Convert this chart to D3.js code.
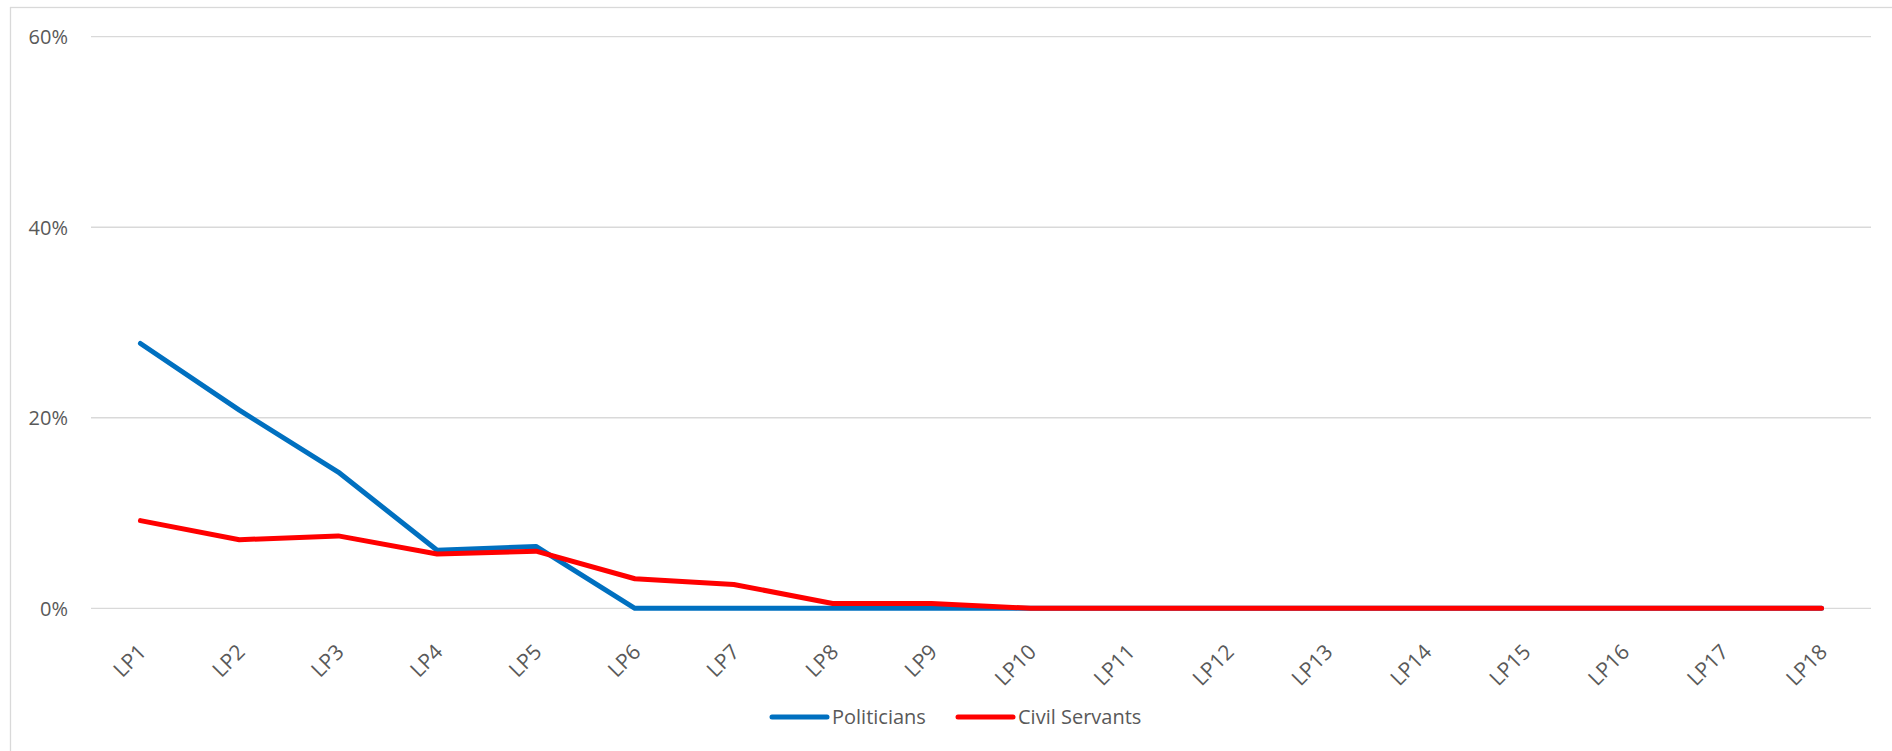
<!DOCTYPE html>
<html>
<head>
<meta charset="utf-8">
<script src="https://cdn.jsdelivr.net/npm/d3@7"></script>
<style>
  html, body { margin: 0; padding: 0; background: #fff; }
  svg { display: block; }
  text { font-family: "Open Sans", sans-serif; fill: #595959; }
</style>
</head>
<body>
<svg id="chart" width="1892" height="751"></svg>
<script>
const categories = ["LP1","LP2","LP3","LP4","LP5","LP6","LP7","LP8","LP9","LP10","LP11","LP12","LP13","LP14","LP15","LP16","LP17","LP18"];
const politicians = [27.8, 20.8, 14.3, 6.1, 6.5, 0, 0, 0, 0, 0, 0, 0, 0, 0, 0, 0, 0, 0];
const civilServants = [9.2, 7.2, 7.6, 5.7, 6.0, 3.1, 2.5, 0.5, 0.5, 0, 0, 0, 0, 0, 0, 0, 0, 0];
const yTicks = [0, 20, 40, 60];
const seriesNames = ["Politicians", "Civil Servants"];
const seriesColors = ["#0070C0", "#FF0000"];

const svg = d3.select("#chart");
const W = 1892, H = 751;
const margin = { left: 91, right: W - 1871, top: 36.7, bottom: H - 608.3 };

// outer chart border (extends beyond the picture on right and bottom)
svg.append("rect")
  .attr("x", 10.5).attr("y", 7.5)
  .attr("width", 1900).attr("height", 800)
  .attr("fill", "none").attr("stroke", "#d9d9d9").attr("stroke-width", 1.3);

const x = d3.scaleBand().domain(categories).range([margin.left, W - margin.right]);
const y = d3.scaleLinear().domain([0, 60]).range([H - margin.bottom, margin.top]);

// gridlines
svg.append("g")
  .selectAll("line").data(yTicks).join("line")
  .attr("x1", margin.left).attr("x2", W - margin.right)
  .attr("y1", d => y(d)).attr("y2", d => y(d))
  .attr("stroke", "#d9d9d9").attr("stroke-width", 1.3);

// y axis labels
const yAxis = d3.axisLeft(y).tickValues(yTicks).tickFormat(d => d + "%").tickSize(0).tickPadding(0);
const gy = svg.append("g").attr("transform", "translate(68,0)").call(yAxis);
gy.select(".domain").remove();
gy.selectAll("text").attr("font-size", 20).attr("fill", "#595959")
  .style("font-family", "Open Sans, sans-serif").attr("dy", "0.35em");

// x axis labels
const xAxis = d3.axisBottom(x).tickSize(0).tickPadding(0);
const gx = svg.append("g").attr("transform", `translate(0,${y(0)})`).call(xAxis);
gx.select(".domain").remove();
gx.selectAll("text")
  .attr("font-size", 21).attr("fill", "#595959")
  .style("font-family", "Open Sans, sans-serif")
  .attr("text-anchor", "end")
  .attr("dy", null).attr("y", null)
  .attr("transform", "translate(7,45) rotate(-45)");

// lines
const line = d3.line().x((d, i) => x(categories[i]) + x.bandwidth() / 2).y(d => y(d));
[politicians, civilServants].forEach((s, i) => {
  svg.append("path").datum(s)
    .attr("d", line)
    .attr("fill", "none")
    .attr("stroke", seriesColors[i])
    .attr("stroke-width", 5)
    .attr("stroke-linejoin", "round")
    .attr("stroke-linecap", "round");
});

// legend
const legendItems = [
  { name: seriesNames[0], color: seriesColors[0], x0: 772 },
  { name: seriesNames[1], color: seriesColors[1], x0: 958 }
];
const lg = svg.append("g");
legendItems.forEach(it => {
  lg.append("line")
    .attr("x1", it.x0).attr("x2", it.x0 + 55)
    .attr("y1", 717).attr("y2", 717)
    .attr("stroke", it.color).attr("stroke-width", 5).attr("stroke-linecap", "round");
  lg.append("text")
    .attr("x", it.x0 + 60).attr("y", 717).attr("dy", "0.35em")
    .attr("font-size", 20)
    .text(it.name);
});
</script>
</body>
</html>
